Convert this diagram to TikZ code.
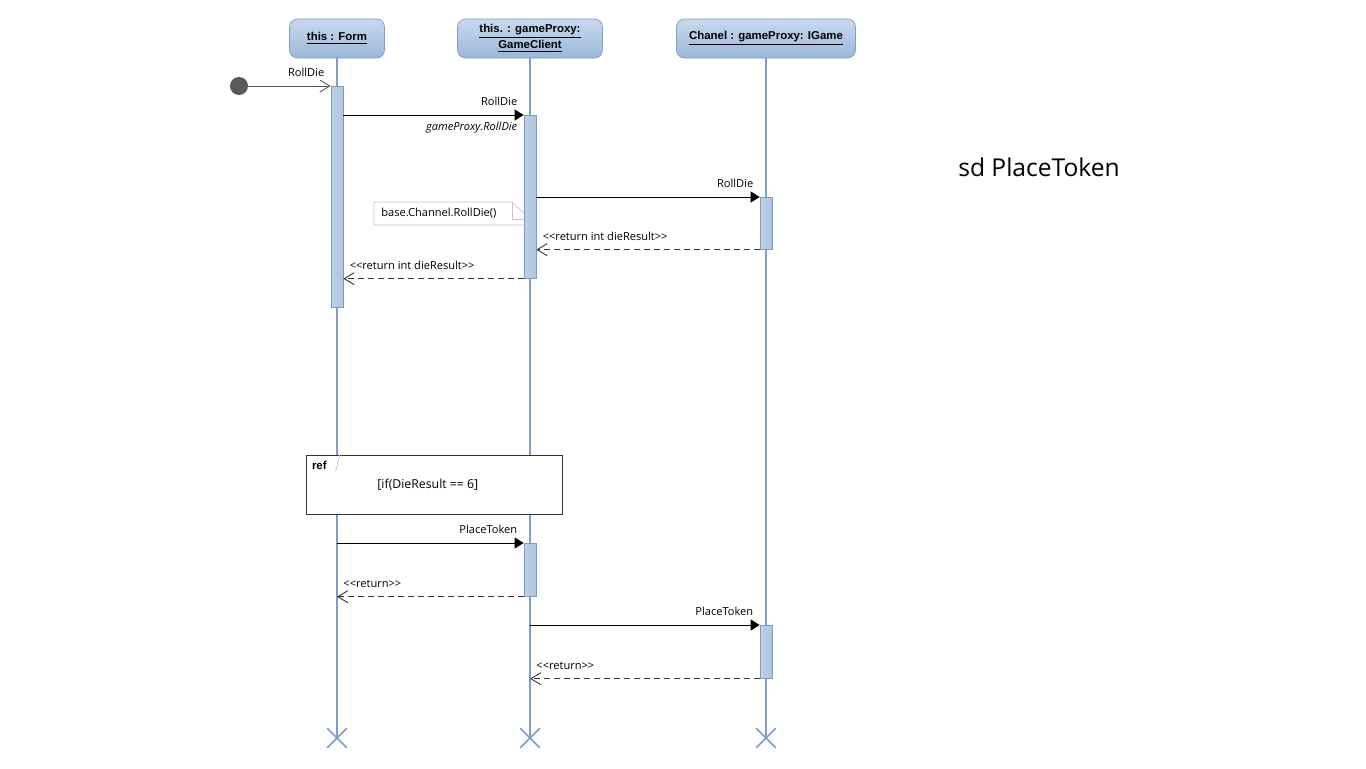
\documentclass[tikz,border=0pt]{standalone}
\usepackage{fontspec}
\setmainfont{Open Sans}
\newfontfamily\headfont{Liberation Sans}
\usetikzlibrary{arrows.meta, shapes.misc, positioning}
\definecolor{headtop}{HTML}{C9D9EC}
\definecolor{headbot}{HTML}{9BB7DA}
\definecolor{headline}{HTML}{7E9EC8}
\definecolor{lifecol}{HTML}{7F9CCB}
\definecolor{actfill}{HTML}{AFC4DF}
\definecolor{actline}{HTML}{7A9BC8}
\definecolor{notecol}{HTML}{C4C4C4}
\definecolor{startcol}{HTML}{595959}

\begin{document}
\begin{tikzpicture}[x=0.02cm, y=-0.02cm,
  head/.style={draw=headline, rounded corners=1.6mm, top color=headtop, bottom color=headbot,
    minimum height=7.8mm, inner sep=0pt, align=center,
    font=\headfont\fontsize{6.5}{7.5}\selectfont\bfseries},
  act/.style={draw=actline, left color=actfill!80, right color=actfill, minimum width=2.4mm, inner sep=0pt, anchor=north},
  lifeline/.style={draw=lifecol, line width=0.9pt},
  endx/.style={cross out, draw=lifecol, line width=0.9pt, minimum size=3.6mm, inner sep=0pt},
  lbl/.style={font=\fontsize{6.3}{7.5}\selectfont, inner xsep=1.2mm, inner ysep=1.7mm},
  call/.style={-{Triangle[length=1.8mm, width=2.2mm]}, line width=0.5pt},
  found/.style={-{Straight Barb[length=2mm, width=2.4mm]}, draw=black!65, line width=0.5pt},
  reply/.style={-{Straight Barb[length=2mm, width=2.4mm]}, draw=black!80, dash pattern=on 1.2mm off 0.8mm, line width=0.5pt}
]
  \useasboundingbox[fill=white] (0,0) rectangle (1366,768);

  \node[head, minimum width=19mm] (form) at (337,38.5) {\underline{this : Form}};
  \node[head, minimum width=29mm] (client) at (530,38.5) {\underline{this. : gameProxy:}\\\underline{GameClient}};
  \node[head, minimum width=35.8mm] (game) at (766,38.5) {\underline{Chanel : gameProxy: IGame}};

  \node[endx] (formend) at (337,738) {};
  \node[endx] (clientend) at (530,738) {};
  \node[endx] (gameend) at (766,738) {};
  \draw[lifeline] (form) -- (formend.center);
  \draw[lifeline] (client) -- (clientend.center);
  \draw[lifeline] (game) -- (gameend.center);

  \node[font=\fontsize{14}{16}\selectfont] (title) at (1039,167) {sd PlaceToken};

  % note
  \filldraw[draw=notecol, fill=white] (374,202) -- (512,202) -- (530,219) -- (530,225) -- (374,225) -- cycle;
  \draw[notecol] (512,202) -- (512,219) -- (530,219);
  \node[lbl, anchor=west, inner sep=0pt] (note) at (381,213) {base.Channel.RollDie()};

  % ref frame
  \node[draw=black!80, fill=white, minimum width=51.2mm, minimum height=11.8mm, inner sep=0pt,
    font=\fontsize{7}{8}\selectfont] (ref) at (434,484.5) {[if(DieResult == 6]\hspace*{7pt}};
  \node[anchor=north west, inner sep=1.2mm, font=\headfont\fontsize{6.5}{7.5}\selectfont\bfseries] (reftag) at (ref.north west) {ref};
  \draw[notecol] ([xshift=6.8mm]ref.north west) -- ([xshift=6mm, yshift=-3.4mm]ref.north west);

  % activations
  \node[act, minimum height=44.2mm] (formact) at (337,86) {};
  \node[act, minimum height=32.6mm] (clientact1) at (530,115) {};
  \node[act, minimum height=10.4mm] (gameact1) at (766,197) {};
  \node[act, minimum height=10.6mm] (clientact2) at (530,543) {};
  \node[act, minimum height=10.6mm] (gameact2) at (766,625) {};

  \node[circle, fill=startcol, minimum size=3.6mm, inner sep=0pt] (start) at (239,86) {};

  \draw[found] (start) -- (formact.north west) node[lbl, above left, pos=1] {RollDie};
  \draw[call] (formact.east |- clientact1.north) -- (clientact1.north west)
    node[lbl, above left, pos=1] {RollDie}
    node[lbl, below left, pos=1, inner ysep=1.4mm, font=\fontsize{6.3}{7.5}\selectfont\itshape] {gameProxy.RollDie};
  \draw[call] (clientact1.east |- gameact1.north) -- (gameact1.north west) node[lbl, above left, pos=1] {RollDie};
  \draw[reply] (gameact1.south west) -- (clientact1.east |- gameact1.south)
    node[lbl, above right, pos=1] {{<}{<}return int dieResult{>}{>}};
  \draw[reply] (clientact1.south west) -- (formact.east |- clientact1.south)
    node[lbl, above right, pos=1] {{<}{<}return int dieResult{>}{>}};

  \draw[call] (form |- clientact2.north) -- (clientact2.north west) node[lbl, above left, pos=1] {PlaceToken};
  \draw[reply] (clientact2.south west) -- (form |- clientact2.south) node[lbl, above right, pos=1] {{<}{<}return{>}{>}};
  \draw[call] (client |- gameact2.north) -- (gameact2.north west) node[lbl, above left, pos=1] {PlaceToken};
  \draw[reply] (gameact2.south west) -- (client |- gameact2.south) node[lbl, above right, pos=1] {{<}{<}return{>}{>}};
\end{tikzpicture}
\end{document}
